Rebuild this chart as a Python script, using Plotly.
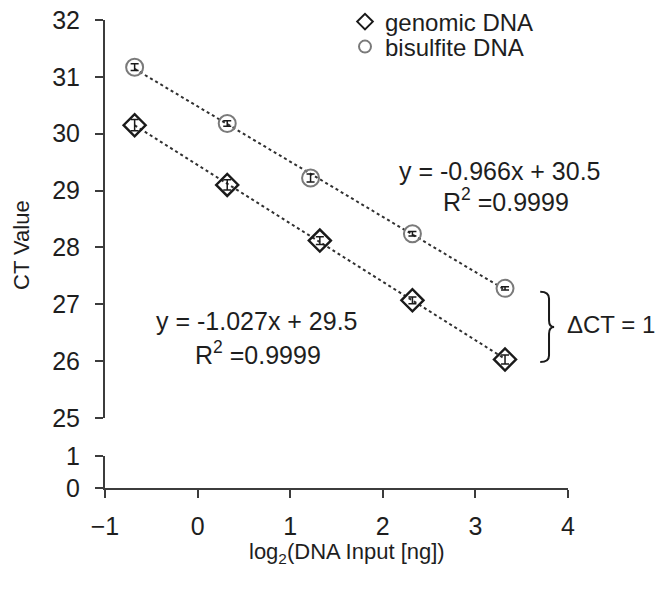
import numpy as np
import plotly.graph_objects as go

# ---- data ----
x_genomic = [-0.68, 0.32, 1.32, 2.32, 3.32]
ct_genomic = [30.15, 29.10, 28.12, 27.07, 26.03]
err_genomic = [0.10, 0.09, 0.07, 0.06, 0.08]

x_bisulfite = [-0.68, 0.32, 1.22, 2.32, 3.32]
ct_bisulfite = [31.17, 30.18, 29.22, 28.24, 27.28]
err_bisulfite = [0.06, 0.05, 0.07, 0.04, 0.03]

series_names = ["genomic DNA", "bisulfite DNA"]
eq_genomic = "y = -1.027x + 29.5"
eq_bisulfite = "y = -0.966x + 30.5"
r2_text = "R<sup>2</sup> =0.9999"

x_ticks = [-1, 0, 1, 2, 3, 4]
y_ticks_upper = [25, 26, 27, 28, 29, 30, 31, 32]
y_ticks_lower = [0, 1]

FONT = "Liberation Sans, Arial, sans-serif"
TXT = "#1e1e1e"
AX = "#3c3c3c"

# page has an 8px body margin; compensate
OFF = 8
W, H = 664 - OFF, 593 - OFF
L, T = 105 - OFF, 20 - OFF
R = W - (568 - OFF)
B = H - (488 - OFF)
pw, ph = W - L - R, H - T - B

def px_x(p):  # page pixel -> paper x
    return (p - 105) / pw

def px_y(p):  # page pixel -> paper y
    return (488 - p) / ph

fig = go.Figure()

# trendlines (least squares from the data)
for xs, ys in [(x_genomic, ct_genomic), (x_bisulfite, ct_bisulfite)]:
    m, b = np.polyfit(xs, ys, 1)
    xl = np.array([min(xs), max(xs)])
    fig.add_trace(go.Scatter(x=xl, y=m * xl + b, mode="lines",
                             line=dict(color="#303030", width=2, dash="dot"),
                             showlegend=False, hoverinfo="skip"))

fig.add_trace(go.Scatter(
    x=x_genomic, y=ct_genomic, mode="markers", name=series_names[0],
    legend="legend",
    marker=dict(symbol="diamond-open", size=17, color="#1a1a1a",
                line=dict(width=2.4, color="#1a1a1a")),
    error_y=dict(type="data", array=err_genomic, color="#1a1a1a",
                 thickness=1.5, width=4)))
fig.add_trace(go.Scatter(
    x=x_bisulfite, y=ct_bisulfite, mode="markers", name=series_names[1],
    legend="legend2",
    marker=dict(symbol="circle-open", size=17, color="#7a7a7a",
                line=dict(width=2, color="#7a7a7a")),
    error_y=dict(type="data", array=err_bisulfite, color="#1a1a1a",
                 thickness=1.5, width=4)))

# dummy trace so the lower axis exists
fig.add_trace(go.Scatter(x=[None], y=[None], xaxis="x", yaxis="y2",
                         showlegend=False, hoverinfo="skip"))

upper_bottom = px_y(418)
lower_top = px_y(456)

axis_common = dict(showgrid=False, zeroline=False, showline=True,
                   linecolor=AX, linewidth=2, ticks="outside", ticklen=8,
                   tickwidth=2, tickcolor=AX, ticklabeloverflow="allow",
                   tickfont=dict(family=FONT, size=25, color=TXT))

leg_common = dict(xanchor="left", yanchor="middle",
                  font=dict(family=FONT, size=24, color=TXT),
                  bgcolor="rgba(0,0,0,0)", itemwidth=30, itemsizing="constant")

fig.update_layout(
    width=W, height=H,
    margin=dict(l=L, r=R, t=T, b=B, autoexpand=False),
    plot_bgcolor="white", paper_bgcolor="white",
    xaxis=dict(range=[-1, 4], tickvals=x_ticks, anchor="y2",
               ticklabelstandoff=7, **axis_common),
    yaxis=dict(range=[25, 32], tickvals=y_ticks_upper,
               domain=[upper_bottom, 1], anchor="x",
               ticklabelstandoff=10, **axis_common),
    yaxis2=dict(range=[0, 1], tickvals=y_ticks_lower,
                domain=[0, lower_top], anchor="x",
                ticklabelstandoff=10, **axis_common),
    legend=dict(x=px_x(345), y=px_y(22), **leg_common),
    legend2=dict(x=px_x(345), y=px_y(47), **leg_common),
    showlegend=True,
)

ann_font = dict(family=FONT, size=25, color=TXT)
C = dict(showarrow=False, xanchor="center", yanchor="middle")
annotations = [
    dict(x=3.266, y=29.34, xref="x", yref="y", text=eq_bisulfite, font=ann_font, **C),
    dict(x=3.33, y=28.84, xref="x", yref="y", text=r2_text, font=ann_font, **C),
    dict(x=0.641, y=26.70, xref="x", yref="y", text=eq_genomic, font=ann_font, **C),
    dict(x=0.652, y=26.14, xref="x", yref="y", text=r2_text, font=ann_font, **C),
    dict(x=3.97, y=26.636, xref="x", yref="y", text="ΔCT = 1", showarrow=False,
         xanchor="left", yanchor="middle", font=dict(family=FONT, size=24, color=TXT)),
    dict(x=px_x(22), y=px_y(245), xref="paper", yref="paper",
         text="CT Value", textangle=-90, font=dict(family=FONT, size=22, color=TXT), **C),
    dict(x=px_x(347), y=px_y(553), xref="paper", yref="paper",
         text="log<sub>2</sub>(DNA Input [ng])",
         font=dict(family=FONT, size=22, color=TXT), **C),
]
fig.update_layout(annotations=annotations)

# right brace
brace = ("M 3.70,27.22 Q 3.795,27.22 3.795,27.10 L 3.795,26.72 "
         "Q 3.795,26.60 3.85,26.60 Q 3.795,26.60 3.795,26.48 L 3.795,26.10 "
         "Q 3.795,25.985 3.70,25.985")
fig.add_shape(type="path", path=brace, xref="x", yref="y",
              line=dict(color="#1a1a1a", width=2))

fig.write_html("out.html")
